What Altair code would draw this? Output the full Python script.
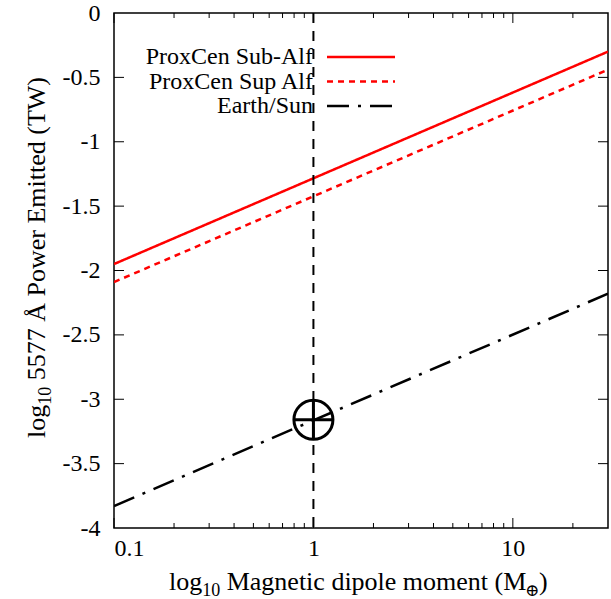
import altair as alt
import pandas as pd

# Series end points (log10 power vs dipole moment; straight lines on log x)
x_range = [0.1, 30]
sub_alf = [-1.95, -0.30]
sup_alf = [-2.09, -0.44]
earth_sun = [-3.83, -2.18]
series_names = ["ProxCen Sub-Alf", "ProxCen Sup Alf", "Earth/Sun"]
series_colors = ["#ff0000", "#ff0000", "#000000"]
series_dash = [[1, 0], [6, 5], [22, 9, 3, 9]]

# Earth's present-day value
earth_x = [1]
earth_y = [-3.16]

# Tick values
x_major = [0.1, 1, 10]
x_minor = [0.2, 0.3, 0.4, 0.5, 0.6, 0.7, 0.8, 0.9, 2, 3, 4, 5, 6, 7, 8, 9, 20]
y_major = [0, -0.5, -1, -1.5, -2, -2.5, -3, -3.5, -4]

# Axis titles, split into normal and subscript runs
x_title_parts = ["log", "10", "Magnetic dipole moment (M", "⊕", ")"]
y_title_parts = ["log", "10", "5577 Å Power Emitted (TW)"]

W, H = 494, 515
FONT = "Liberation Serif"
TFS, SFS = 26, 18          # title and subscript font sizes

xs = alt.Scale(type="log", domain=[0.1, 30], nice=False)
ys = alt.Scale(domain=[-4, 0], nice=False)

xaxis = alt.Axis(values=x_major, labelExpr="toString(datum.value)",
                 ticks=False, domain=False, grid=False,
                 labelFont=FONT, labelFontSize=24, labelColor="black",
                 labelPadding=8, title="")
yaxis = alt.Axis(values=y_major, labelExpr="toString(datum.value)",
                 ticks=False, domain=False, grid=False,
                 labelFont=FONT, labelFontSize=24, labelColor="black",
                 labelPadding=14, title="")

rows = []
for name, vals in zip(series_names, [sub_alf, sup_alf, earth_sun]):
    for x, y in zip(x_range, vals):
        rows.append({"series": name, "x": x, "y": y})
lines_df = pd.DataFrame(rows)

lines = alt.Chart(lines_df).mark_line(strokeWidth=2.5, clip=True).encode(
    x=alt.X("x:Q", scale=xs, axis=xaxis),
    y=alt.Y("y:Q", scale=ys, axis=yaxis),
    color=alt.Color("series:N", scale=alt.Scale(domain=series_names, range=series_colors), legend=None),
    strokeDash=alt.StrokeDash("series:N", scale=alt.Scale(domain=series_names, range=series_dash), legend=None),
    detail="series:N",
)

# Inward-pointing ticks on all four sides
def xticks(values, length):
    df = pd.DataFrame({"x": values})
    bottom = alt.Chart(df).mark_rule(color="black", strokeWidth=1).encode(
        x=alt.X("x:Q", scale=xs, axis=xaxis), y=alt.value(H), y2=alt.value(H - length))
    top = alt.Chart(df).mark_rule(color="black", strokeWidth=1).encode(
        x=alt.X("x:Q", scale=xs, axis=xaxis), y=alt.value(0), y2=alt.value(length))
    return [bottom, top]

def yticks(values, length):
    df = pd.DataFrame({"y": values})
    left = alt.Chart(df).mark_rule(color="black", strokeWidth=1).encode(
        y=alt.Y("y:Q", scale=ys, axis=yaxis), x=alt.value(0), x2=alt.value(length))
    right = alt.Chart(df).mark_rule(color="black", strokeWidth=1).encode(
        y=alt.Y("y:Q", scale=ys, axis=yaxis), x=alt.value(W - length), x2=alt.value(W))
    return [left, right]

tick_layers = xticks(x_major, 10) + xticks(x_minor, 5) + yticks(y_major[1:-1], 10)

earth_df = pd.DataFrame({"x": earth_x, "y": earth_y})
vline = alt.Chart(earth_df).mark_rule(color="black", strokeWidth=2, strokeDash=[10, 8]).encode(
    x=alt.X("x:Q", scale=xs, axis=xaxis))

earth_circle = alt.Chart(earth_df).mark_point(
    shape="circle", size=1521, filled=False, color="black", strokeWidth=3, opacity=1
).encode(x=alt.X("x:Q", scale=xs, axis=xaxis), y=alt.Y("y:Q", scale=ys, axis=yaxis))
earth_cross = alt.Chart(earth_df).mark_point(
    shape="M-1,0L1,0M0,-1L0,1", size=1521, filled=False, color="black", strokeWidth=3, opacity=1
).encode(x=alt.X("x:Q", scale=xs, axis=xaxis), y=alt.Y("y:Q", scale=ys, axis=yaxis))

# Key in the upper-left corner: label to the left of its line sample
legend_layers = []
for i, (name, col, dash) in enumerate(zip(series_names, series_colors, series_dash)):
    ypix = 44 + 24.5 * i
    ldf = pd.DataFrame({"label": [name]})
    legend_layers.append(
        alt.Chart(ldf).mark_text(align="right", baseline="middle", font=FONT,
                                 fontSize=24, color="black").encode(
            text="label:N", x=alt.value(199), y=alt.value(ypix)))
    legend_layers.append(
        alt.Chart(ldf).mark_rule(color=col, strokeWidth=2.5, strokeDash=dash).encode(
            x=alt.value(213), x2=alt.value(281), y=alt.value(ypix)))

def text_run(s, x, y, size, font=FONT, angle=0):
    return alt.Chart(pd.DataFrame({"t": [s]})).mark_text(
        align="left", baseline="alphabetic", font=font, fontSize=size,
        color="black", angle=angle).encode(text="t:N", x=alt.value(x), y=alt.value(y))

# x-axis title: runs laid out left to right
xb = H + 62
x0 = 55
x_title = [
    text_run(x_title_parts[0], x0, xb, TFS),
    text_run(x_title_parts[1], x0 + 33.2, xb + 6, SFS),
    text_run(x_title_parts[2], x0 + 57.7, xb, TFS),
    text_run(x_title_parts[3], x0 + 356, xb + 6, 17, font="DejaVu Serif"),
    text_run(x_title_parts[4], x0 + 370, xb, TFS),
]

# y-axis title: rotated runs laid out bottom to top
yb = -69
y0 = 425
y_title = [
    text_run(y_title_parts[0], yb, y0, TFS, angle=270),
    text_run(y_title_parts[1], yb + 6, y0 - 33.2, SFS, angle=270),
    text_run(y_title_parts[2], yb, y0 - 57.7, TFS, angle=270),
]

chart = alt.layer(
    lines, vline, earth_circle, earth_cross, *tick_layers, *legend_layers,
    *x_title, *y_title
).properties(
    width=W, height=H,
    autosize=alt.AutoSizeParams(type="none"),
    padding={"left": 114, "top": 13, "right": 3, "bottom": 71},
    background="white",
).configure_view(stroke="black", strokeWidth=1.5)

chart.save("out.html", embed_options={"renderer": "svg", "actions": False})
